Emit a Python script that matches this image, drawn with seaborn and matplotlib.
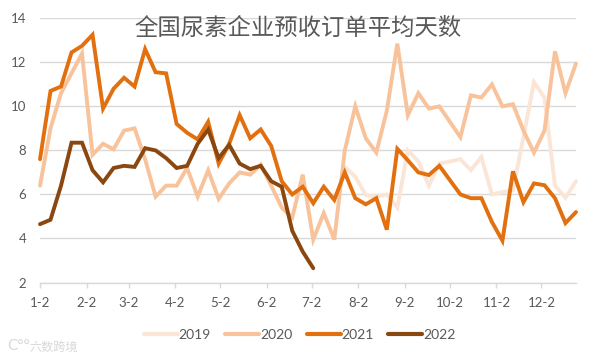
import numpy as np
import pandas as pd
import matplotlib
matplotlib.use("Agg")
import matplotlib.pyplot as plt
import seaborn as sns

title = "全国尿素企业预收订单平均天数"
watermark = "六数跨境"
tick_days = [0, 31, 59, 90, 120, 151, 181, 212, 243, 273, 304, 334]
tick_labels = ["1-2", "2-2", "3-2", "4-2", "5-2", "6-2", "7-2", "8-2", "9-2", "10-2", "11-2", "12-2"]
y_ticks = [2, 4, 6, 8, 10, 12, 14]
nan = float("nan")

v2019 = [nan] * 29 + [7.25, 6.8, 5.97, 5.9, 6.0, 5.4, 8.0, 7.5, 6.4, 7.4, 7.5, 7.6, 7.1, 7.7, 6.0, 6.1, 6.2, 8.6, 11.1, 10.4, 6.4, 5.85, 6.6]
v2020 = [6.4, 9.0, 10.6, 11.5, 12.4, 7.8, 8.3, 8.05, 8.9, 9.0, 7.6, 5.9, 6.4, 6.4, 7.2, 5.9, 7.1, 5.8, 6.5, 7.0, 6.9, 7.35, 6.4, 5.4, 4.95, 6.9, 3.95, 5.15, 3.95, 8.0, 10.0, 8.55, 7.9, 9.8, 12.85, 9.6, 10.6, 9.9, 10.0, 9.3, 8.6, 10.5, 10.4, 11.0, 10.0, 10.1, 8.9, 7.9, 8.9, 12.5, 10.6, 11.95]
v2021 = [7.6, 10.7, 10.9, 12.45, 12.75, 13.25, 9.9, 10.8, 11.3, 10.9, 12.6, 11.55, 11.5, 9.2, 8.8, 8.5, 9.3, 7.4, 8.3, 9.6, 8.55, 8.95, 8.2, 6.6, 6.0, 6.35, 5.6, 6.35, 5.75, 7.0, 5.83, 5.55, 5.83, 4.4, 8.07, 7.55, 7.0, 6.88, 7.3, 6.65, 6.0, 5.83, 5.83, 4.75, 3.9, 7.05, 5.65, 6.5, 6.42, 5.83, 4.7, 5.2]
v2022 = [4.65, 4.85, 6.4, 8.35, 8.35, 7.1, 6.55, 7.2, 7.3, 7.25, 8.1, 8.0, 7.65, 7.2, 7.3, 8.3, 8.95, 7.65, 8.25, 7.4, 7.15, 7.3, 6.6, 6.35, 4.35, 3.4, 2.65]
series = {"2019": v2019, "2020": v2020, "2021": v2021, "2022": v2022}
colors = {"2019": "#FBE5D6", "2020": "#F8C39A", "2021": "#E2700F", "2022": "#8B4710"}

rows = [(7 * i, name, v) for name, vals in series.items() for i, v in enumerate(vals)]
df = pd.DataFrame(rows, columns=["day", "year", "value"]).dropna()

sns.set_theme(style="white")
plt.rcParams["font.family"] = ["Lato", "Noto Sans CJK SC", "DejaVu Sans"]

W, H = 595, 360
fig = plt.figure(figsize=(W / 100, H / 100), dpi=100, facecolor="white")
ax = fig.add_axes([40 / W, 1 - 282.5 / H, 536 / W, (282.5 - 18.3) / H])
ax.set_axisbelow(True)
sns.lineplot(data=df, x="day", y="value", hue="year", palette=colors,
             hue_order=list(series), linewidth=2.8, ax=ax, estimator=None, sort=False,
             solid_capstyle="round", solid_joinstyle="miter", clip_on=False)

ax.set_xlim(0, 357)
ax.set_ylim(2, 14)
ax.set_xticks(tick_days, tick_labels)
ax.set_yticks(y_ticks)
ax.set_xlabel("")
ax.set_ylabel("")
ax.grid(axis="y", color="#D9D9D9", linewidth=1)
ax.grid(axis="x", visible=False)
for s in ("top", "left", "right"):
    ax.spines[s].set_visible(False)
ax.spines["bottom"].set_color("#D9D9D9")
ax.spines["bottom"].set_linewidth(1)
ax.tick_params(axis="x", length=3.5, width=1, color="#D9D9D9", labelcolor="#595959", labelsize=9.5, pad=7, bottom=True)
ax.tick_params(axis="y", length=0, labelcolor="#595959", labelsize=9.5, pad=10)

fig.text(298 / W, 1 - 28.5 / H, title, ha="center", va="center", fontsize=16.8,
         color="#595959", family=["Noto Sans CJK SC"])

handles, labels = ax.get_legend_handles_labels()
for h in handles:
    h.set_linewidth(3.0)
ax.legend(handles, labels, loc="center", bbox_to_anchor=(299.5 / W, 1 - 335 / H),
          bbox_transform=fig.transFigure, ncol=4, frameon=False, fontsize=10,
          labelcolor="#595959", handlelength=2.45, handletextpad=0.05, columnspacing=1.05,
          borderpad=0)

fig.text(7 / W, 1 - 346 / H, "C°°", fontsize=11, color="#D8D8D8", va="center", ha="left")
fig.text(30 / W, 1 - 347.5 / H, watermark, fontsize=8.7, color="#D8D8D8",
         va="center", ha="left", family=["Noto Sans CJK SC"])

fig.savefig("out.png", dpi=100, facecolor="white")
